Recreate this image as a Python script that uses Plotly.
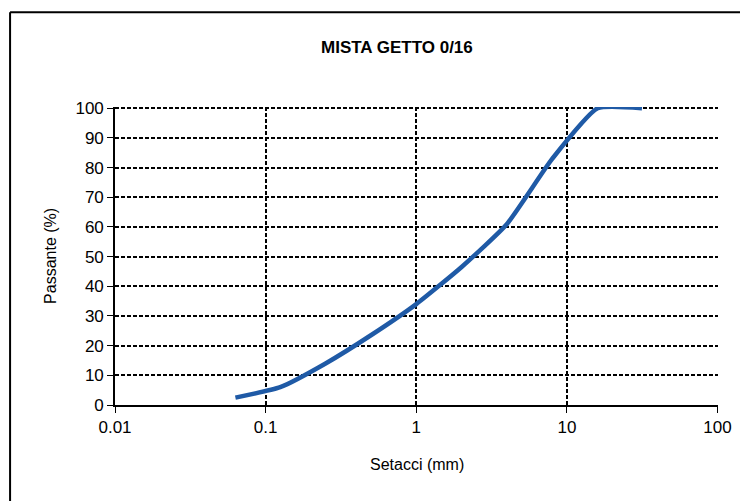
import plotly.graph_objects as go

# Data
setacci_mm = [0.063, 0.125, 0.25, 0.5, 1, 2, 4, 8, 16, 31.5]
passante_pct = [2.5, 6, 14, 23.5, 34, 46.5, 61, 83, 100, 100]

x_tickvals = [0.01, 0.1, 1, 10, 100]
x_ticktext = ["0.01", "0.1", "1", "10", "100"]
y_tickvals = [0, 10, 20, 30, 40, 50, 60, 70, 80, 90, 100]

title_text = "MISTA GETTO 0/16"
x_title = "Setacci (mm)"
y_title = "Passante (%)"

FONT = "Liberation Sans, Arial, sans-serif"

fig = go.Figure()
fig.add_trace(go.Scatter(
    x=setacci_mm, y=passante_pct, mode="lines",
    line=dict(color="#1f5aa6", width=4.5, shape="spline", smoothing=0.5),
    showlegend=False, hoverinfo="skip",
))

# page body has an 8px offset; margins compensate for it
fig.update_layout(
    width=748, height=501,
    margin=dict(l=107, r=38, t=99, b=104),
    paper_bgcolor="white", plot_bgcolor="white",
    font=dict(family=FONT, color="black", size=16),
    showlegend=False,
    xaxis=dict(
        type="log", range=[-2, 2.003],
        tickvals=x_tickvals, ticktext=x_ticktext,
        showgrid=True, gridcolor="black", griddash="4px,2px", gridwidth=1.6,
        showline=True, linecolor="black", linewidth=1.6,
        ticks="outside", ticklen=6, tickcolor="black", tickwidth=1.4,
        tickfont=dict(size=17, family=FONT), zeroline=False,
    ),
    yaxis=dict(
        range=[0, 100.4], tickvals=y_tickvals,
        showgrid=True, gridcolor="black", griddash="4px,2px", gridwidth=1.6,
        showline=True, linecolor="black", linewidth=1.6,
        ticks="outside", ticklen=6, tickcolor="black", tickwidth=1.4,
        tickfont=dict(size=17, family=FONT), zeroline=False,
    ),
    annotations=[
        dict(text="<b>" + title_text + "</b>", x=0.468, y=1.2, xref="paper", yref="paper",
             showarrow=False, font=dict(size=17, family=FONT), xanchor="center", yanchor="middle"),
        dict(text=x_title, x=0.5, y=-0.2, xref="paper", yref="paper",
             showarrow=False, font=dict(size=16, family=FONT), xanchor="center", yanchor="middle"),
        dict(text=y_title, x=-0.108, y=0.5, xref="paper", yref="paper", textangle=-90,
             showarrow=False, font=dict(size=16, family=FONT), xanchor="center", yanchor="middle"),
    ],
    shapes=[
        dict(type="line", xref="paper", yref="paper", x0=-0.174, x1=1.08, y0=1.318, y1=1.318,
             line=dict(color="black", width=2)),
        dict(type="line", xref="paper", yref="paper", x0=-0.174, x1=-0.174, y0=1.318, y1=-0.33,
             line=dict(color="black", width=2)),
    ],
)

fig.write_html("out.html")
